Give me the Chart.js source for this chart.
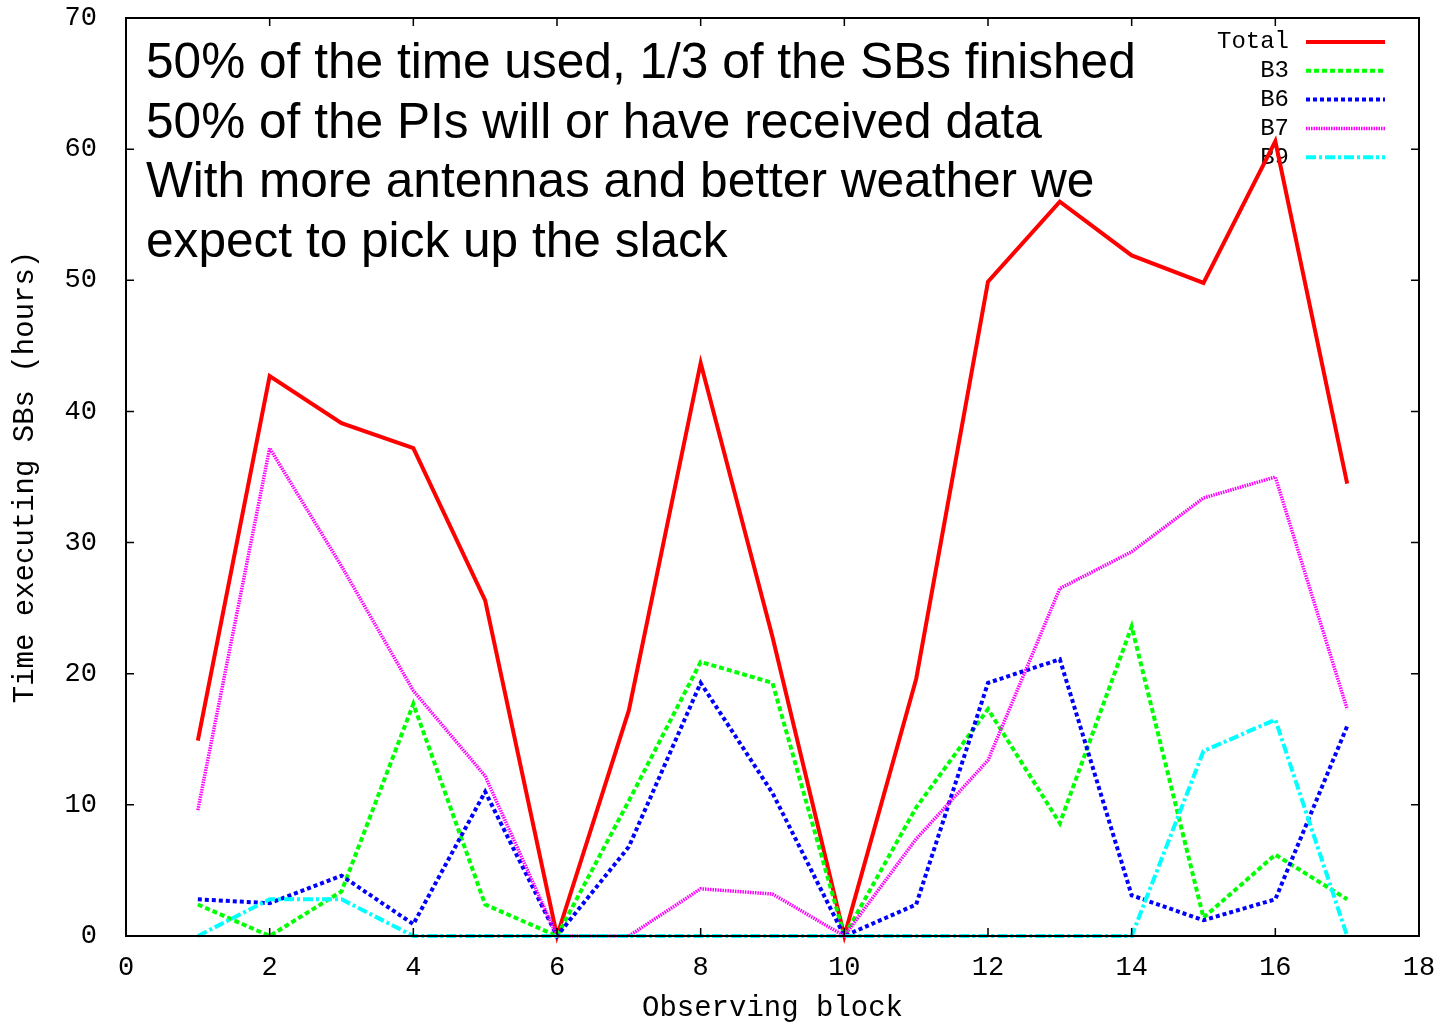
<!DOCTYPE html>
<html>
<head>
<meta charset="utf-8">
<script src="https://cdn.jsdelivr.net/npm/chart.js@4"></script>
<style>
    body { margin: 0; background: #fff; }
    #sbChart { display: block; }
</style>
</head>
<body>
<canvas id="sbChart" width="1449" height="1023"></canvas>
<script>
// observing blocks and hours spent executing SBs per band
const blocks = [1, 2, 3, 4, 5, 6, 7, 8, 9, 10, 11, 12, 13, 14, 15, 16, 17];
const totalHours = [14.9, 42.7, 39.1, 37.2, 25.6, 0, 17.2, 43.7, 22.8, 0, 19.6, 49.9, 56.0, 51.9, 49.8, 60.6, 34.5];
const b3Hours = [2.4, 0, 3.4, 17.7, 2.4, 0, 10.3, 20.9, 19.3, 0, 9.8, 17.3, 8.6, 23.6, 1.4, 6.2, 2.8];
const b6Hours = [2.8, 2.5, 4.6, 0.9, 11.0, 0, 6.8, 19.3, 10.9, 0, 2.4, 19.3, 21.1, 3.1, 1.2, 2.8, 16.0];
const b7Hours = [9.6, 37.2, 28.2, 18.7, 12.2, 0, 0, 3.6, 3.2, 0, 7.4, 13.4, 26.5, 29.3, 33.4, 35.0, 17.3];
const b9Hours = [0, 2.8, 2.8, 0, 0, 0, 0, 0, 0, 0, 0, 0, 0, 0, 14.1, 16.5, 0];

const notes = [
    '50% of the time used, 1/3 of the SBs finished',
    '50% of the PIs will or have received data',
    'With more antennas and better weather we',
    'expect to pick up the slack'
];

const mono = "'Liberation Mono', 'DejaVu Sans Mono', monospace";

function toPoints(values) {
    return values.map((v, i) => ({ x: blocks[i], y: v }));
}

function series(label, values, color, width, dash, order) {
    return {
        label: label,
        data: toPoints(values),
        borderColor: color,
        backgroundColor: color,
        borderWidth: width,
        borderDash: dash,
        pointRadius: 0,
        tension: 0,
        clip: false,
        order: order
    };
}

// box around the plot with inward ticks on all four sides
const framePlugin = {
    id: 'frame',
    afterDraw(chart) {
        const c = chart.ctx;
        const a = chart.chartArea;
        const xs = chart.scales.x;
        const ys = chart.scales.y;
        c.save();
        c.strokeStyle = '#000';
        c.lineWidth = 2;
        c.strokeRect(a.left, a.top, a.right - a.left, a.bottom - a.top);
        c.lineWidth = 1.5;
        c.beginPath();
        xs.ticks.forEach(t => {
            const px = xs.getPixelForValue(t.value);
            c.moveTo(px, a.bottom); c.lineTo(px, a.bottom - 8);
            c.moveTo(px, a.top); c.lineTo(px, a.top + 8);
        });
        ys.ticks.forEach(t => {
            const py = ys.getPixelForValue(t.value);
            c.moveTo(a.left, py); c.lineTo(a.left + 8, py);
            c.moveTo(a.right, py); c.lineTo(a.right - 8, py);
        });
        c.stroke();
        c.restore();
    }
};

// gnuplot style key (label right aligned, sample to the right) plus the notes
const keyPlugin = {
    id: 'keyAndNotes',
    beforeDatasetsDraw(chart) {
        const c = chart.ctx;
        c.save();
        c.fillStyle = '#000';
        c.font = "49.6px 'Liberation Sans', Arial, sans-serif";
        c.textBaseline = 'alphabetic';
        c.textAlign = 'left';
        notes.forEach((line, i) => c.fillText(line, 146, 78 + i * 59.7));

        c.font = '24px ' + mono;
        c.textAlign = 'right';
        c.textBaseline = 'middle';
        chart.data.datasets.forEach((ds, i) => {
            const y = 42 + i * 28.8;
            c.fillStyle = '#000';
            c.fillText(ds.label, 1289, y);
            c.strokeStyle = ds.borderColor;
            c.lineWidth = ds.borderWidth;
            c.setLineDash(ds.borderDash);
            c.beginPath();
            c.moveTo(1306, y);
            c.lineTo(1385, y);
            c.stroke();
        });
        c.restore();
    }
};

let ctx = document.getElementById('sbChart').getContext('2d');
let sbChart = new Chart(ctx, {
    type: 'line',
    data: {
        datasets: [
            series('Total', totalHours, '#ff0000', 4, [], 5),
            series('B3', b3Hours, '#00ff00', 4, [5, 3], 4),
            series('B6', b6Hours, '#0000ff', 4, [4, 3], 3),
            series('B7', b7Hours, '#ff00ff', 3.5, [1.5, 1], 2),
            series('B9', b9Hours, '#00ffff', 4, [10, 3, 3, 3], 1)
        ]
    },
    options: {
        responsive: false,
        animation: false,
        layout: { padding: { top: 0, right: 30, left: 0, bottom: 0 } },
        plugins: {
            legend: { display: false },
            tooltip: { enabled: false }
        },
        scales: {
            x: {
                type: 'linear',
                min: 0,
                max: 18,
                grid: { display: false },
                border: { display: false },
                ticks: { stepSize: 2, padding: 8, color: '#000', font: { family: mono, size: 27 } },
                title: {
                    display: true,
                    text: 'Observing block',
                    color: '#000',
                    font: { family: mono, size: 29, lineHeight: 1 },
                    padding: { top: 0, bottom: 0 }
                },
                afterFit: scale => {
                    scale.height = 87;
                    scale.paddingTop = 0;
                    scale.paddingBottom = 0;
                }
            },
            y: {
                min: 0,
                max: 70,
                grid: { display: false },
                border: { display: false },
                ticks: { stepSize: 10, padding: 21, color: '#000', font: { family: mono, size: 27 } },
                title: {
                    display: true,
                    text: 'Time executing SBs (hours)',
                    color: '#000',
                    font: { family: mono, size: 29, lineHeight: 1 },
                    padding: { top: 11, bottom: 0 }
                },
                afterFit: scale => {
                    scale.width = 126;
                    scale.paddingTop = 18;
                    scale.paddingBottom = 0;
                }
            }
        }
    },
    plugins: [framePlugin, keyPlugin]
});
</script>
</body>
</html>
